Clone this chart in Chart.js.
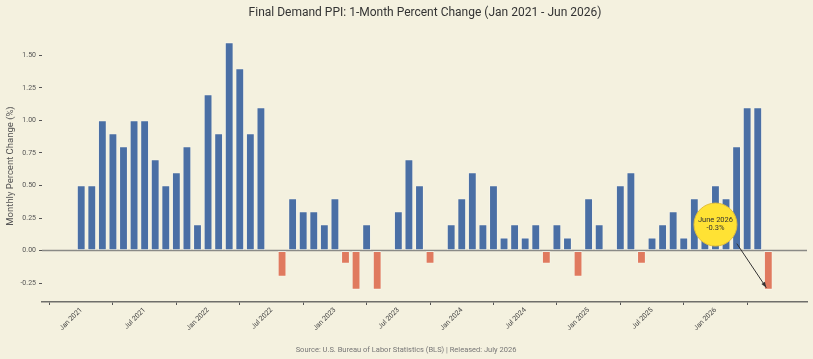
<!DOCTYPE html>
<html lang="en">

<head>
    <meta charset="UTF-8">
    <script src="https://cdn.jsdelivr.net/npm/chart.js@4.4.1/dist/chart.umd.min.js"></script>
    <title>Final Demand PPI</title>
    <style>
        body { margin: 0; background: #F4F1DF; }
        canvas { display: block; }
    </style>
</head>

<body>
    <canvas id="chartPPI" width="813" height="359"></canvas>
</body>

</html>
<script>
    /* months Jan 2021 - Jun 2026 */
    var meses = [];
    var nomes = ['Jan', 'Feb', 'Mar', 'Apr', 'May', 'Jun', 'Jul', 'Aug', 'Sep', 'Oct', 'Nov', 'Dec'];
    for (var a = 2021; a <= 2026; a++) {
        for (var m = 0; m < 12; m++) {
            if (a == 2026 && m > 5) break;
            meses.push(nomes[m] + ' ' + a);
        }
    }

    /* 1-month percent change */
    var valores = [
        0.5, 0.5, 1.0, 0.9, 0.8, 1.0, 1.0, 0.7, 0.5, 0.6, 0.8, 0.2,   // 2021
        1.2, 0.9, 1.6, 1.4, 0.9, 1.1, 0.0, -0.2, 0.4, 0.3, 0.3, 0.2,  // 2022
        0.4, -0.1, -0.3, 0.2, -0.3, 0.0, 0.3, 0.7, 0.5, -0.1, 0.0, 0.2, // 2023
        0.4, 0.6, 0.2, 0.5, 0.1, 0.2, 0.1, 0.2, -0.1, 0.2, 0.1, -0.2, // 2024
        0.4, 0.2, 0.0, 0.5, 0.6, -0.1, 0.1, 0.2, 0.3, 0.1, 0.4, 0.3,  // 2025
        0.5, 0.4, 0.8, 1.1, 1.1, -0.3                                 // 2026
    ];

    var xTicks = [0, 6, 12, 18, 24, 30, 36, 42, 48, 54, 60];
    var yTicks = [-0.25, 0, 0.25, 0.5, 0.75, 1.0, 1.25, 1.5];

    var nota = { texto: ['June 2026', '-0.3%'], alvo: 65, alvoValor: -0.3, pos: 60, posValor: 0.2 };

    var corAzul = '#4A6FA5';
    var corVermelho = '#E07A5F';

    /* linha do zero, titulo, fonte e anotacao */
    var extras = {
        id: 'extras',
        beforeDatasetsDraw: function (chart) {
            var c = chart.ctx, area = chart.chartArea;
            var y0 = chart.scales.y.getPixelForValue(0);
            c.save();
            c.strokeStyle = '#8a8a86';
            c.lineWidth = 1.5;
            c.beginPath();
            c.moveTo(area.left, y0);
            c.lineTo(area.right, y0);
            c.stroke();
            c.restore();
        },
        afterDraw: function (chart) {
            var c = chart.ctx;
            var sx = chart.scales.x, sy = chart.scales.y;
            c.save();

            c.fillStyle = '#333';
            c.font = '12px Roboto';
            c.textAlign = 'center';
            c.textBaseline = 'middle';
            c.fillText('Final Demand PPI: 1-Month Percent Change (Jan 2021 - Jun 2026)', 425, 12.5);

            c.fillStyle = '#777';
            c.font = '7.5px Roboto';
            c.fillText('Source: U.S. Bureau of Labor Statistics (BLS) | Released: July 2026', 406, 350);

            /* anotacao */
            var cx = sx.getPixelForValue(nota.pos), cy = sy.getPixelForValue(nota.posValor);
            var tx = sx.getPixelForValue(nota.alvo) - 2, ty = sy.getPixelForValue(nota.alvoValor) - 2;
            var r = 21.5;
            var ang = Math.atan2(ty - cy, tx - cx);
            var ax = cx + (r + 3) * Math.cos(ang) + 6, ay = cy + (r + 3) * Math.sin(ang);

            c.strokeStyle = '#333';
            c.fillStyle = '#333';
            c.lineWidth = 1;
            c.beginPath();
            c.moveTo(ax, ay);
            c.lineTo(tx, ty);
            c.stroke();
            var ang2 = Math.atan2(ty - ay, tx - ax);
            c.beginPath();
            c.moveTo(tx, ty);
            c.lineTo(tx - 6 * Math.cos(ang2 - 0.35), ty - 6 * Math.sin(ang2 - 0.35));
            c.lineTo(tx - 6 * Math.cos(ang2 + 0.35), ty - 6 * Math.sin(ang2 + 0.35));
            c.closePath();
            c.fill();

            c.beginPath();
            c.arc(cx, cy, r, 0, Math.PI * 2);
            c.fillStyle = '#FFE234';
            c.fill();
            c.strokeStyle = '#E2BE3A';
            c.lineWidth = 1;
            c.stroke();

            c.fillStyle = '#333';
            c.font = '7.5px Roboto';
            c.fillText(nota.texto[0], cx, cy - 4);
            c.fillText(nota.texto[1], cx, cy + 4);
            c.restore();
        }
    };

    var ctx = chartPPI.getContext('2d');
    var myChart = new Chart(ctx, {
        type: 'bar',
        data: {
            datasets: [{
                label: 'PPI',
                data: valores.map(function (v, i) { return { x: i, y: v }; }),
                backgroundColor: valores.map(function (v) { return v < 0 ? corVermelho : corAzul; }),
                borderColor: 'rgba(255,255,255,0.45)',
                borderWidth: 0.8,
                borderSkipped: false,
                barPercentage: 0.8,
                categoryPercentage: 1
            }]
        },
        plugins: [extras],
        options: {
            responsive: false,
            devicePixelRatio: 1,
            animation: false,
            layout: { padding: { top: 30, right: 6, left: 0, bottom: 0 } },
            plugins: {
                legend: { display: false },
                tooltip: { enabled: false }
            },
            scales: {
                x: {
                    type: 'linear',
                    min: -3.71,
                    max: 68.66,
                    offset: false,
                    afterBuildTicks: function (s) { s.ticks = xTicks.map(function (v) { return { value: v }; }); },
                    afterFit: function (s) { s.height = 57; },
                    ticks: {
                        autoSkip: false,
                        minRotation: 45,
                        maxRotation: 45,
                        padding: 1,
                        color: '#444',
                        font: { family: 'Roboto', size: 7 },
                        callback: function (v) { return meses[v]; }
                    },
                    grid: { drawOnChartArea: false, tickLength: 3, color: '#555' },
                    border: { display: true, color: '#6f6f6b', width: 1.5 }
                },
                y: {
                    min: -0.395,
                    max: 1.695,
                    afterBuildTicks: function (s) { s.ticks = yTicks.map(function (v) { return { value: v }; }); },
                    afterFit: function (s) { s.width = 42; },
                    ticks: {
                        padding: 3,
                        color: '#555',
                        font: { family: 'Roboto', size: 7 },
                        callback: function (v) { return v.toFixed(2); }
                    },
                    grid: { drawOnChartArea: false, tickLength: 3, color: '#555' },
                    border: { display: false },
                    title: {
                        display: true,
                        text: 'Monthly Percent Change (%)',
                        color: '#555',
                        font: { family: 'Roboto', size: 9.5 },
                        padding: { top: 5, bottom: 0 }
                    }
                }
            }
        }
    });
</script>
